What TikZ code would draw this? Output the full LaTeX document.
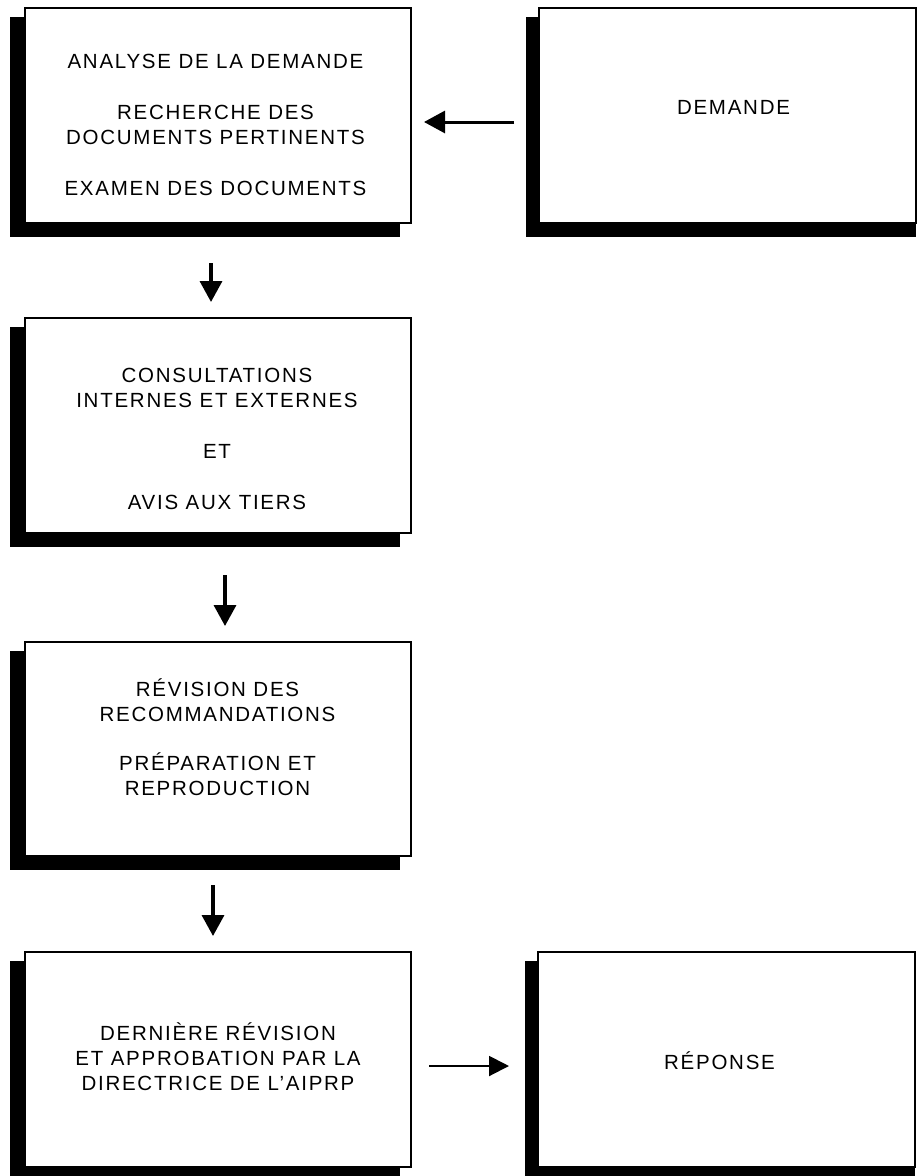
\documentclass[tikz,border=0pt]{standalone}
\usepackage{fontspec}
\setmainfont{Liberation Sans}[LetterSpace=8.5]
\usetikzlibrary{arrows.meta,calc,backgrounds}
\begin{document}
\begin{tikzpicture}[x=1pt,y=-1pt,
  boxnode/.style={draw=black,line width=2pt,fill=white,minimum width=386pt,minimum height=215pt,inner sep=0pt},
  txt/.style={align=center,inner sep=0pt,font=\fontsize{20.5}{25}\selectfont},
  arr/.style={-{Triangle[length=21pt,width=22pt]},line width=3.5pt}
]
\useasboundingbox (0,0) rectangle (919,1176);
% boxes
\node[boxnode] (b1) at (218,115.5) {};
\node[boxnode,minimum width=377pt] (bdem) at (727.5,115.5) {};
\node[boxnode] (b2) at (218,425.5) {};
\node[boxnode,minimum height=214pt] (b3) at (218,749) {};
\node[boxnode] (b4) at (218,1059.5) {};
\node[boxnode,minimum width=377pt] (brep) at (726.5,1059.5) {};
% shadows
\begin{scope}[on background layer]
\fill[white] (0,0) rectangle (919,1176);
\foreach \n in {b1,b2,b3,b4}{
  \fill[black] ($(\n.north west)+(-14,10)$) rectangle ($(\n.south east)+(-12,13)$);
}
\foreach \n in {bdem,brep}{
  \fill[black] ($(\n.north west)+(-12,10)$) rectangle ($(\n.south east)+(-1,13)$);
}
\end{scope}
% texts
\node[txt] (t1) at (215.5,124.5) {ANALYSE DE LA DEMANDE\\[26pt]RECHERCHE DES\\DOCUMENTS PERTINENTS\\[26pt]EXAMEN DES DOCUMENTS};
\node[txt,anchor=base] (tdem) at (733.5,114) {DEMANDE};
\node[txt] (t2) at (217,439) {CONSULTATIONS\\INTERNES ET EXTERNES\\[26pt]ET\\[26pt]AVIS AUX TIERS};
\node[txt] (t3) at (217.5,737.5) {RÉVISION DES\\RECOMMANDATIONS\\[24pt]PRÉPARATION ET\\REPRODUCTION};
\node[txt] (t4) at (218,1056.5) {DERNIÈRE RÉVISION\\ET APPROBATION PAR LA\\DIRECTRICE DE L’AIPRP};
\node[txt,anchor=base] (trep) at (719.5,1069) {RÉPONSE};
% arrows
\draw[arr,line width=3pt] ($(bdem.west)+(-24,6.5)$) -- ($(b1.east)+(12,6.5)$);
\draw[arr] ($(b1.south)+(-7,39)$) -- ($(b2.north)+(-7,-15)$);
\draw[arr] ($(b2.south)+(7,41)$) -- ($(b3.north)+(7,-15)$);
\draw[arr] ($(b3.south)+(-5,28)$) -- ($(b4.north)+(-5,-15)$);
\draw[-{Triangle[length=20pt,width=20pt]},line width=2pt] ($(b4.east)+(17,6.5)$) -- ($(brep.west)+(-28,6.5)$);
\end{tikzpicture}
\end{document}
